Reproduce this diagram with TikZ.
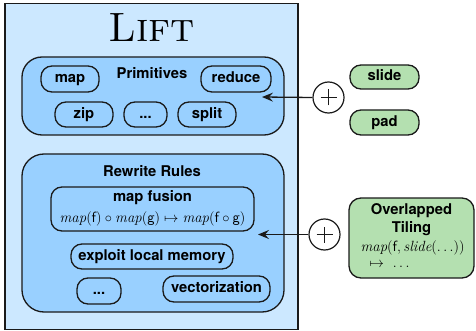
\documentclass[tikz,border=0pt]{standalone}
\usepackage{fontspec}
\newfontfamily\hv{TeX Gyre Heros}
\usetikzlibrary{arrows.meta}
\definecolor{outerblue}{HTML}{CCE8FF}
\definecolor{innerblue}{HTML}{99D0FF}
\definecolor{greenfill}{HTML}{B4E0B0}
\definecolor{edgecol}{HTML}{1A1A1A}
\tikzset{
  lbl/.style={font=\hv\bfseries\fontsize{14.8}{17}\selectfont, inner sep=0pt, text height=10.5pt, text depth=3pt},
  pill/.style={lbl, draw=edgecol, line width=1.3pt, fill=innerblue, rounded corners=11pt},
  gpill/.style={pill, fill=greenfill},
  group/.style={draw=edgecol, line width=1.3pt, fill=innerblue, inner sep=0pt},
  plus/.style={circle, draw=edgecol, line width=1.2pt, fill=white, minimum size=31pt, inner sep=0pt},
  conn/.style={draw=edgecol, line width=1.3pt, -{Stealth[length=11pt,width=9pt,inset=4pt]}},
  mathlbl/.style={inner sep=0pt, font=\fontsize{14.8}{17}\selectfont}
}
\begin{document}
\begin{tikzpicture}[x=1pt,y=-1pt]
\useasboundingbox (0,0) rectangle (476,331);
% outer box
\node[draw=edgecol, line width=1.4pt, fill=outerblue, minimum width=293pt, minimum height=326pt, inner sep=0pt] (lift) at (151.5,166.5) {};
\node[anchor=base, inner sep=0pt, font=\fontsize{41}{44}\selectfont] (title) at (151.5,42) {\textsc{Lift}};
% primitives group
\node[group, rounded corners=20pt, minimum width=262pt, minimum height=78pt] (prim) at (153,96) {};
\node[lbl] (primlbl) at (152,75) {Primitives};
\node[pill, minimum width=58pt, minimum height=26pt] (map) at (70,79) {map};
\node[pill, minimum width=70pt, minimum height=26pt] (reduce) at (236,79) {reduce};
\node[pill, minimum width=58pt, minimum height=25pt] (zip) at (84,114.5) {zip};
\node[pill, minimum width=43pt, minimum height=25pt] (pdots) at (145.5,114.5) {...};
\node[pill, minimum width=58pt, minimum height=25pt] (split) at (207,114.5) {split};
% rewrite rules group
\node[group, rounded corners=22pt, minimum width=262pt, minimum height=158pt] (rw) at (153,233) {};
\node[lbl] (rwlbl) at (152,172.5) {Rewrite Rules};
\node[pill, minimum width=203pt, minimum height=44pt] (fusion) at (152.5,209) {};
\node[lbl] (fusionlbl) at (152.5,198) {map fusion};
\node[mathlbl] (fusionmath) at (152.5,219) {$\mathit{map}(\mathsf{f})\circ\mathit{map}(\mathsf{g})\mapsto\mathit{map}(\mathsf{f}\circ\mathsf{g})$};
\node[pill, minimum width=162pt, minimum height=25pt] (exploit) at (152,256.5) {exploit local memory};
\node[pill, minimum width=44pt, minimum height=26pt] (rdots) at (99,291) {...};
\node[pill, minimum width=107pt, minimum height=26pt] (vect) at (216.5,289) {vectorization};
% right side
\node[gpill, minimum width=69pt, minimum height=24pt] (slide) at (384.5,77) {slide};
\node[gpill, minimum width=69pt, minimum height=25pt] (pad) at (384.5,122.5) {pad};
\node[gpill, rounded corners=12pt, minimum width=125pt, minimum height=80pt] (tiling) at (411.5,238) {};
\node[lbl] (tilinglbla) at (411.5,211) {Overlapped};
\node[lbl] (tilinglblb) at (411.5,229) {Tiling};
\node[mathlbl] (tilingmath) at (412.5,248) {$\mathit{map}(\mathsf{f},\mathit{slide}(\ldots))$};
\node[mathlbl, anchor=west] (tilingmap) at (369.5,265) {$\mapsto\ \ldots$};
% plus circles and connectors
\node[plus] (plusa) at (328.5,97.5) {};
\draw[line width=1.4pt, edgecol] ([xshift=-8pt]plusa.center) -- ([xshift=8pt]plusa.center) ([yshift=-8pt]plusa.center) -- ([yshift=8pt]plusa.center);
\node[plus] (plusb) at (324.5,234.5) {};
\draw[line width=1.4pt, edgecol] ([xshift=-8pt]plusb.center) -- ([xshift=8pt]plusb.center) ([yshift=-8pt]plusb.center) -- ([yshift=8pt]plusb.center);
\coordinate (tipa) at (262,97);
\coordinate (tipb) at (258,234.5);
\draw[conn] (plusa.west) -- (tipa);
\draw[conn] (plusb.west) -- (tipb);
\end{tikzpicture}
\end{document}
